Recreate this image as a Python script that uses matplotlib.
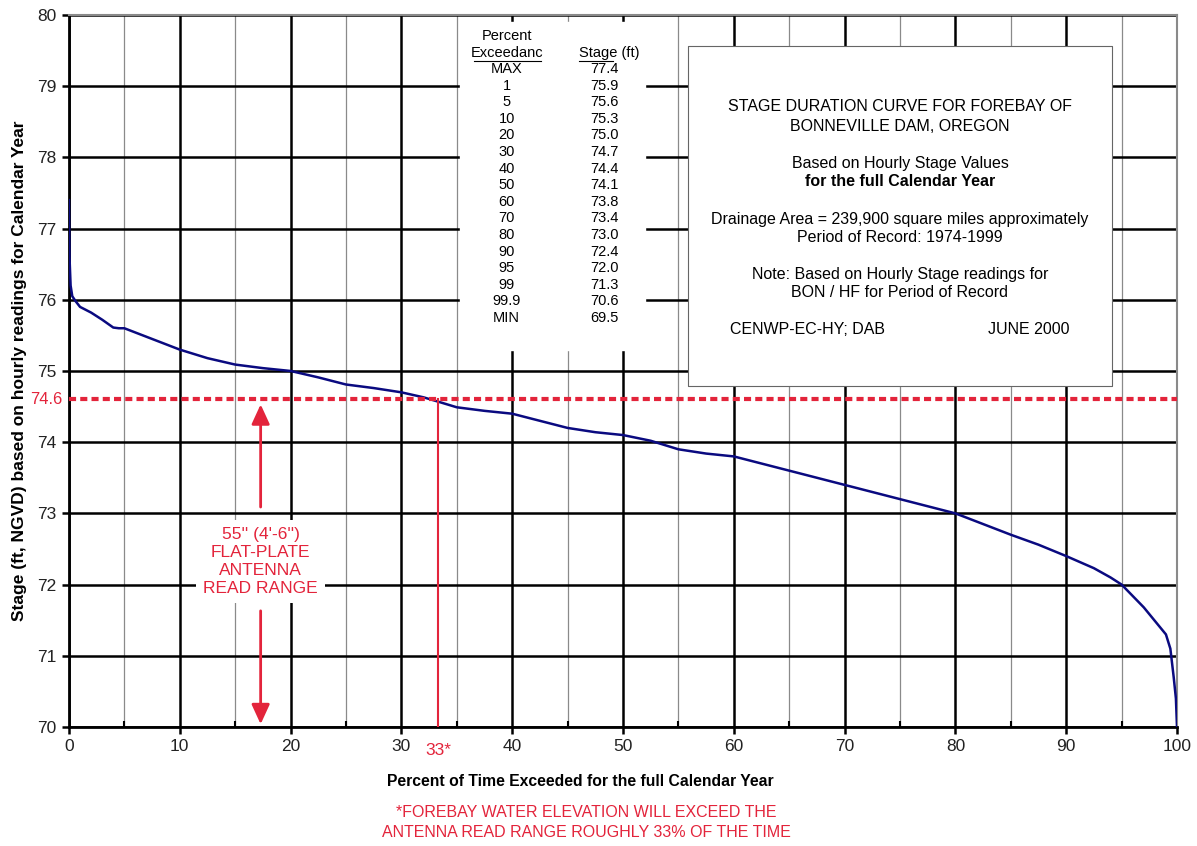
import matplotlib.pyplot as plt
from matplotlib.ticker import MultipleLocator

plt.rcParams['font.family'] = ['Liberation Sans', 'DejaVu Sans']

# stage duration curve
exceed_pct = [0, 0.05, 0.15, 0.3, 0.6, 1, 2, 3, 4, 4.5, 5, 7.5, 10, 12.5, 15, 17.5, 20,
              22.5, 25, 27.5, 30, 32, 33.3, 35, 37.5, 40, 42.5, 45, 47.5, 50, 52.5, 55,
              57.5, 60, 65, 70, 75, 80, 82.5, 85, 87.5, 90, 92.5, 94, 95, 97, 99, 99.4,
              99.7, 99.9, 100]
stage_ft = [77.4, 76.6, 76.2, 76.05, 75.98, 75.9, 75.82, 75.72, 75.61, 75.6, 75.6, 75.45,
            75.3, 75.18, 75.09, 75.04, 75.0, 74.91, 74.81, 74.76, 74.7, 74.63, 74.57, 74.49,
            74.44, 74.4, 74.3, 74.2, 74.14, 74.1, 74.02, 73.9, 73.84, 73.8, 73.6, 73.4,
            73.2, 73.0, 72.85, 72.7, 72.56, 72.4, 72.23, 72.1, 72.0, 71.68, 71.3, 71.1,
            70.7, 70.4, 70.0]

# summary table
table_pct = ['MAX', '1', '5', '10', '20', '30', '40', '50', '60', '70', '80', '90', '95',
             '99', '99.9', 'MIN']
table_stage = [77.4, 75.9, 75.6, 75.3, 75.0, 74.7, 74.4, 74.1, 73.8, 73.4, 73.0, 72.4,
               72.0, 71.3, 70.6, 69.5]

antenna_top = 74.6
exceed_at_top = 33.3
arrow_x = 17.3

red = '#E3243B'
navy = '#0A0A80'

fig = plt.figure(figsize=(11.97, 8.46), dpi=100)
ax = fig.add_axes([0.0576, 0.1407, 0.9257, 0.8416])

ax.set_xlim(0, 100)
ax.set_ylim(70, 80)
ax.xaxis.set_major_locator(MultipleLocator(10))
ax.xaxis.set_minor_locator(MultipleLocator(5))
ax.yaxis.set_major_locator(MultipleLocator(1))

ax.grid(which='major', color='black', linewidth=1.8, zorder=0)
ax.grid(which='minor', axis='x', color='#8a8a8a', linewidth=0.9, zorder=0)
ax.set_axisbelow(True)

for s in ['left', 'bottom']:
    ax.spines[s].set_linewidth(2)
    ax.spines[s].set_color('black')
for s in ['top', 'right']:
    ax.spines[s].set_linewidth(1.5)
    ax.spines[s].set_color('#8a8a8a')

ax.tick_params(which='major', direction='out', length=5, width=1.8, labelsize=12.5,
               labelcolor='#222222', pad=4)
ax.tick_params(axis='x', which='minor', direction='in', length=4, width=1.5)

ax.plot(exceed_pct, stage_ft, color=navy, linewidth=1.8, zorder=4)

# antenna range
ax.axhline(antenna_top, color=red, linewidth=3, linestyle=(0, (1.7, 1.0)), zorder=5)
ax.plot([exceed_at_top, exceed_at_top], [70, antenna_top], color=red, linewidth=1.5, zorder=5)
ax.text(-0.6, antenna_top, '74.6', color=red, fontsize=12, ha='right', va='center')
ax.text(exceed_at_top, 69.77, '33*', color=red, fontsize=12.5, ha='center', va='top')

ax.annotate('', xy=(arrow_x, antenna_top - 0.03), xytext=(arrow_x, 73.05),
            arrowprops=dict(arrowstyle='-|>,head_length=1.2,head_width=0.55', color=red, lw=2),
            zorder=6)
ax.annotate('', xy=(arrow_x, 70.0), xytext=(arrow_x, 71.67),
            arrowprops=dict(arrowstyle='-|>,head_length=1.2,head_width=0.55', color=red, lw=2),
            zorder=6)
ax.text(arrow_x, 72.33, '55\'\' (4\'-6\'\')\nFLAT-PLATE\nANTENNA\nREAD RANGE', color=red,
        fontsize=12.5, ha='center', va='center', linespacing=1.25, zorder=6,
        bbox=dict(facecolor='white', edgecolor='none', pad=5))

# table of exceedance values
tfs = 10.5
ax.fill_between([35.3, 52.0], 75.3, 79.9, color='white', zorder=2)
ax.text(39.5, 79.7, 'Percent', fontsize=tfs, ha='center', va='center', zorder=3)
ax.text(39.5, 79.47, 'Exceedanc', fontsize=tfs, ha='center', va='center', zorder=3)
ax.plot([36.55, 42.6], [79.36, 79.36], color='black', linewidth=0.8, zorder=3)
ax.text(46.0, 79.47, 'Stage (ft)', fontsize=tfs, ha='left', va='center', zorder=3)
ax.plot([46.0, 49.1], [79.36, 79.36], color='black', linewidth=0.8, zorder=3)
row_y = 79.24
for lab, val in zip(table_pct, table_stage):
    ax.text(39.5, row_y, lab, fontsize=tfs, ha='center', va='center', zorder=3)
    ax.text(48.3, row_y, f'{val:.1f}', fontsize=tfs, ha='center', va='center', zorder=3)
    row_y -= 0.233

# info box
ax.fill_between([55.9, 94.1], 74.79, 79.56, facecolor='white', edgecolor='#666666',
                linewidth=0.8, zorder=2)
bx = 75.0
bfs = 11.5
ax.text(bx, 78.72, 'STAGE DURATION CURVE FOR FOREBAY OF', fontsize=bfs, ha='center', va='center', zorder=3)
ax.text(bx, 78.44, 'BONNEVILLE DAM, OREGON', fontsize=bfs, ha='center', va='center', zorder=3)
ax.text(bx, 77.92, 'Based on Hourly Stage Values', fontsize=bfs, ha='center', va='center', zorder=3)
ax.text(bx, 77.66, 'for the full Calendar Year', fontsize=bfs, fontweight='bold', ha='center', va='center', zorder=3)
ax.text(bx, 77.13, 'Drainage Area = 239,900 square miles approximately', fontsize=bfs, ha='center', va='center', zorder=3)
ax.text(bx, 76.88, 'Period of Record: 1974-1999', fontsize=bfs, ha='center', va='center', zorder=3)
ax.text(bx, 76.35, 'Note: Based on Hourly Stage readings for', fontsize=bfs, ha='center', va='center', zorder=3)
ax.text(bx, 76.1, 'BON / HF for Period of Record', fontsize=bfs, ha='center', va='center', zorder=3)
ax.text(59.66, 75.58, 'CENWP-EC-HY; DAB', fontsize=bfs, ha='left', va='center', zorder=3)
ax.text(82.94, 75.58, 'JUNE 2000', fontsize=bfs, ha='left', va='center', zorder=3)

ax.set_ylabel('Stage (ft, NGVD) based on hourly readings for Calendar Year', fontsize=12.5,
              fontweight='bold', labelpad=7)
fig.text(0.485, 0.0757, 'Percent of Time Exceeded for the full Calendar Year', fontsize=11.3,
         fontweight='bold', ha='center', va='center')
fig.text(0.49, 0.04, '*FOREBAY WATER ELEVATION WILL EXCEED THE', color=red, fontsize=11.5,
         ha='center', va='center')
fig.text(0.49, 0.0165, 'ANTENNA READ RANGE ROUGHLY 33% OF THE TIME', color=red, fontsize=11.5,
         ha='center', va='center')

fig.savefig('out.png', dpi=100)
